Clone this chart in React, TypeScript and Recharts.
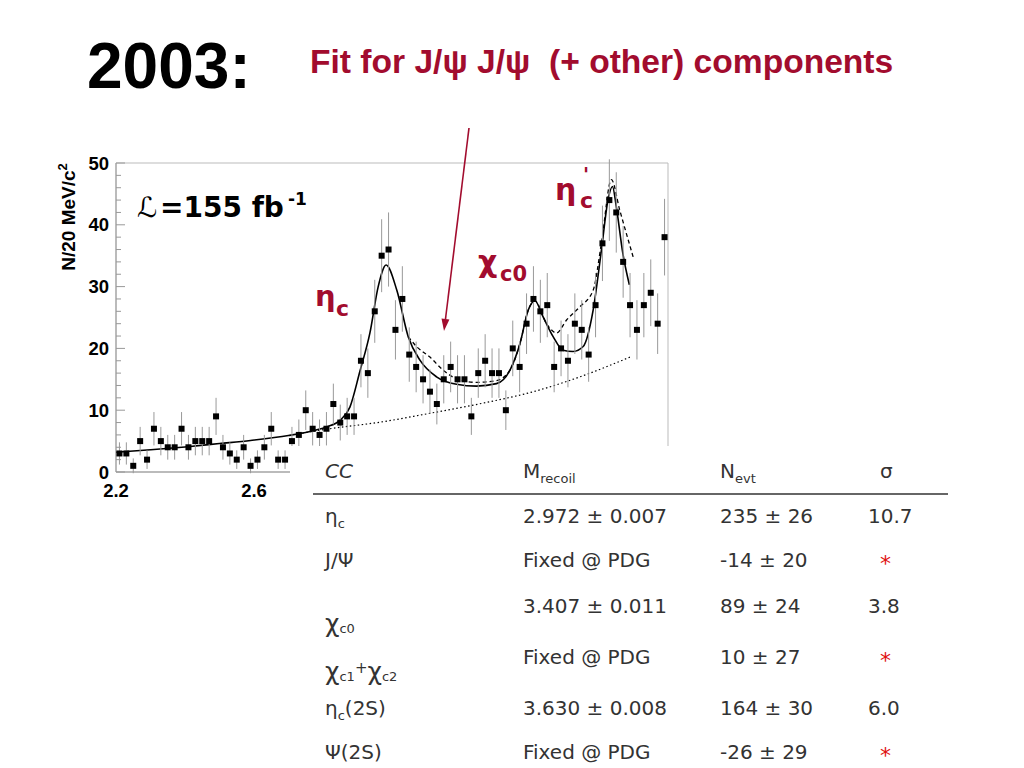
import React from "react";
import { ComposedChart, Scatter, Line, XAxis, YAxis, ErrorBar, ReferenceArea } from "recharts";

const RED = "#a20c2e";
const INK = "#333333";

// 20 MeV bins of recoil mass (GeV/c^2)
const binCenters = [
  2.21, 2.23, 2.25, 2.27, 2.29, 2.31, 2.33, 2.35, 2.37, 2.39,
  2.41, 2.43, 2.45, 2.47, 2.49, 2.51, 2.53, 2.55, 2.57, 2.59,
  2.61, 2.63, 2.65, 2.67, 2.69, 2.71, 2.73, 2.75, 2.77, 2.79,
  2.81, 2.83, 2.85, 2.87, 2.89, 2.91, 2.93, 2.95, 2.97, 2.99,
  3.01, 3.03, 3.05, 3.07, 3.09, 3.11, 3.13, 3.15, 3.17, 3.19,
  3.21, 3.23, 3.25, 3.27, 3.29, 3.31, 3.33, 3.35, 3.37, 3.39,
  3.41, 3.43, 3.45, 3.47, 3.49, 3.51, 3.53, 3.55, 3.57, 3.59,
  3.61, 3.63, 3.65, 3.67, 3.69, 3.71, 3.73, 3.75, 3.77, 3.79,
];
const counts = [
  3, 3, 1, 5, 2, 7, 5, 4, 4, 7,
  4, 5, 5, 5, 9, 4, 3, 2, 4, 1,
  2, 4, 7, 2, 2, 5, 6, 10, 7, 6,
  7, 11, 8, 9, 9, 18, 16, 26, 35, 36,
  23, 28, 19, 17, 15, 13, 11, 15, 17, 15,
  15, 9, 16, 18, 16, 16, 10, 20, 17, 24,
  28, 26, 27, 17, 20, 18, 24, 23, 19, 27,
  37, 44, 42, 34, 27, 23, 27, 29, 24, 38,
];
const countErrors = [
  1.8, 1.8, 1.2, 2.3, 1.5, 2.7, 2.3, 2, 2, 2.7,
  2, 2.3, 2.3, 2.3, 3, 2, 1.8, 1.5, 2, 1.2,
  1.5, 2, 2.7, 1.5, 1.5, 2.3, 2.5, 3.2, 2.7, 2.5,
  2.7, 3.3, 2.9, 3, 3, 4.3, 4, 5.1, 5.9, 6,
  4.8, 5.3, 4.4, 4.1, 3.9, 3.6, 3.3, 3.9, 4.1, 3.9,
  3.9, 3, 4, 4.3, 4, 4, 3.2, 4.5, 4.1, 4.9,
  5.3, 5.1, 5.2, 4.1, 4.5, 4.3, 4.9, 4.8, 4.4, 5.2,
  6.1, 6.6, 6.5, 5.8, 5.2, 4.8, 5.2, 5.4, 4.9, 6.2,
];

// full fit (solid)
const fitX = [2.2, 2.3, 2.4, 2.5, 2.59, 2.7, 2.78, 2.81, 2.85, 2.878, 2.907, 2.936, 2.96, 2.983, 3.014, 3.047, 3.081, 3.129, 3.187, 3.245, 3.303, 3.342, 3.371, 3.395, 3.414, 3.438, 3.467, 3.496, 3.525, 3.554, 3.583, 3.607, 3.626, 3.639, 3.65, 3.669, 3.688];
const fitY = [3.2, 3.6, 4.05, 4.6, 5.1, 5.9, 6.8, 7.3, 8.4, 10.5, 16.3, 22.5, 30.0, 33.5, 29.4, 21.9, 18.1, 15.4, 14.2, 13.9, 14.3, 16.5, 20.8, 26.2, 27.7, 25.1, 21.9, 19.7, 19.5, 20.3, 26.2, 35.9, 44, 46.2, 43, 35.4, 30.3];

// alternative fit (dashed)
const altX = [3.047, 3.071, 3.11, 3.148, 3.187, 3.245, 3.303, 3.342, 3.371, 3.395, 3.414, 3.448, 3.477, 3.506, 3.544, 3.583, 3.607, 3.636, 3.66, 3.699];
const altY = [21.9, 20.3, 18.6, 16.5, 15.1, 14.5, 14.8, 16.5, 20.8, 26.2, 27.7, 24, 22.5, 24.6, 26.7, 29.4, 37, 47.3, 42.4, 34.8];

// background (dotted)
const bkgX = [2.74, 2.82, 2.97, 3.11, 3.26, 3.41, 3.55, 3.69];
const bkgY = [6.3, 7.0, 8.1, 9.5, 11.1, 13.0, 15.5, 18.6];

const yTicks = [0, 2, 4, 6, 8, 10, 12, 14, 16, 18, 20, 22, 24, 26, 28, 30, 32, 34, 36, 38, 40, 42, 44, 46, 48, 50];
const xTicks = [2.2, 2.6];

// table
const tableMass = ["2.972 \u00b1 0.007", "Fixed @ PDG", "3.407 \u00b1 0.011", "Fixed @ PDG", "3.630 \u00b1 0.008", "Fixed @ PDG"];
const tableNevt = ["235 \u00b1 26", "-14 \u00b1 20", "89 \u00b1 24", "10 \u00b1 27", "164 \u00b1 30", "-26 \u00b1 29"];
const tableSigma = ["10.7", "*", "3.8", "*", "6.0", "*"];
const tableRowBaselines = [523, 567, 613, 664, 715, 759];

const Square = (p: any) => <rect x={p.cx - 3} y={p.cy - 3} width={6} height={6} fill="#000" />;

const YTick = (p: any) => {
  const v = p.payload.value;
  const major = v % 10 === 0;
  return (
    <g>
      <line x1={p.x} x2={p.x + (major ? 9 : 5)} y1={p.y} y2={p.y} stroke="#999" strokeWidth={1} />
      {major && (
        <text x={p.x - 7} y={p.y + 6.5} textAnchor="end" fontFamily="Liberation Sans, Arial" fontWeight="bold" fontSize={18.5} fill="#000">
          {v}
        </text>
      )}
    </g>
  );
};

const XTick = (p: any) => (
  <text x={p.x} y={p.y + 25} textAnchor="middle" fontFamily="Liberation Sans, Arial" fontWeight="bold" fontSize={18.5} fill="#000">
    {p.payload.value.toFixed(1)}
  </text>
);

export default function App() {
  const points = binCenters.map((x, i) => ({ x, y: counts[i], err: countErrors[i] }));
  const fit = fitX.map((x, i) => ({ x, y: fitY[i] }));
  const alt = altX.map((x, i) => ({ x, y: altY[i] }));
  const bkg = bkgX.map((x, i) => ({ x, y: bkgY[i] }));
  const tf = "DejaVu Sans";

  return (
    <div style={{ position: "absolute", left: 0, top: 0, width: 1024, height: 768, background: "#fff", overflow: "hidden" }}>
      <div style={{ position: "absolute", left: 0, top: 0 }}>
        <ComposedChart width={1024} height={768} margin={{ top: 163, right: 356, bottom: 266, left: 56 }}>
          <XAxis type="number" dataKey="x" domain={[2.2, 3.8]} ticks={xTicks} interval={0} tick={<XTick />} tickLine={false} tickSize={0} tickMargin={0} axisLine={{ stroke: "#999" }} height={30} allowDataOverflow />
          <YAxis type="number" dataKey="y" domain={[0, 50]} ticks={yTicks} interval={0} tick={<YTick />} tickLine={false} tickSize={0} tickMargin={0} width={60} axisLine={{ stroke: "#999" }} allowDataOverflow />
          <ReferenceArea x1={2.2} x2={3.8} y1={0} y2={50} fill="none" stroke="#bbb" />
          <Line data={bkg} dataKey="y" type="monotone" stroke="#000" strokeWidth={1.2} strokeDasharray="1.5 2.5" dot={false} isAnimationActive={false} />
          <Line data={alt} dataKey="y" type="monotone" stroke="#000" strokeWidth={1.3} strokeDasharray="4 3" dot={false} isAnimationActive={false} />
          <Line data={fit} dataKey="y" type="monotone" stroke="#000" strokeWidth={1.6} dot={false} isAnimationActive={false} />
          <Scatter data={points} dataKey="y" shape={Square} isAnimationActive={false}>
            <ErrorBar dataKey="err" direction="y" width={0} stroke="#999" strokeWidth={1} />
          </Scatter>
        </ComposedChart>
      </div>

      <svg width={1024} height={768} style={{ position: "absolute", left: 0, top: 0, pointerEvents: "none" }}>
        {/* titles */}
        <text x={87} y={88} fontFamily="Liberation Sans, Arial" fontWeight="bold" fontSize={64} fill="#000">2003:</text>
        <text x={310} y={73} fontFamily="Liberation Sans, Arial" fontWeight="bold" fontSize={33.6} fill={RED} style={{ whiteSpace: "pre" }} xmlSpace="preserve">
          {"Fit for J/\u03c8 J/\u03c8  (+ other) components"}
        </text>

        {/* arrow */}
        <line x1={469} y1={128} x2={445.5} y2={319} stroke={RED} strokeWidth={1.6} />
        <polygon points="444,331 449.4,319.6 441.5,318.6" fill={RED} />

        {/* y axis label */}
        <text transform="translate(75,217) rotate(-90)" textAnchor="middle" fontFamily="Liberation Sans, Arial" fontWeight="bold" fontSize={19} fill="#000">
          N/20 MeV/c<tspan fontSize={13} dy={-8}>2</tspan>
        </text>

        {/* luminosity */}
        <text x={137} y={217} fontFamily={tf} fontStyle="italic" fontSize={28} fill="#000">{"\u2112"}</text>
        <text x={160} y={217} fontFamily={tf} fontWeight="bold" fontSize={28} fill="#000">=155 fb</text>
        <text x={288} y={205} fontFamily={tf} fontWeight="bold" fontSize={17} fill="#000">-1</text>

        {/* peak labels */}
        <text x={315} y={306} fontFamily={tf} fontWeight="bold" fontSize={29} fill={RED}>{"\u03b7"}</text>
        <text x={336} y={316} fontFamily={tf} fontWeight="bold" fontSize={22} fill={RED}>c</text>
        <text x={478} y={272} fontFamily={tf} fontWeight="bold" fontSize={30} fill={RED}>{"\u03c7"}</text>
        <text x={500} y={281} fontFamily={tf} fontWeight="bold" fontSize={21} fill={RED}>c0</text>
        <text x={555} y={200} fontFamily={tf} fontWeight="bold" fontSize={30} fill={RED}>{"\u03b7"}</text>
        <text x={583} y={181} fontFamily={tf} fontWeight="bold" fontSize={20} fill={RED}>'</text>
        <text x={580} y={208} fontFamily={tf} fontWeight="bold" fontSize={22} fill={RED}>c</text>

        {/* table */}
        <rect x={290} y={446} width={734} height={322} fill="#fff" />
        <g fontFamily={tf} fontSize={20} fill={INK}>
          <text x={325} y={478} fontStyle="italic">CC</text>
          <text x={523} y={478}>M<tspan fontSize={13} dy={5}>recoil</tspan></text>
          <text x={720} y={478}>N<tspan fontSize={13} dy={5}>evt</tspan></text>
          <text x={880} y={478}>{"\u03c3"}</text>
          <line x1={313} x2={948} y1={494} y2={494} stroke={INK} strokeWidth={1.5} />

          <text x={325} y={523}>{"\u03b7"}<tspan fontSize={13} dy={5}>c</tspan></text>
          <text x={325} y={567}>J/{"\u03a8"}</text>
          <text x={325} y={632} fontSize={25}>{"\u03c7"}<tspan fontSize={13} dy={1}>c0</tspan></text>
          <text x={325} y={680} fontSize={25}>{"\u03c7"}<tspan fontSize={13} dy={1}>c1</tspan><tspan fontSize={15} dy={-8}>+</tspan><tspan dy={7}>{"\u03c7"}</tspan><tspan fontSize={13} dy={1}>c2</tspan></text>
          <text x={325} y={715}>{"\u03b7"}<tspan fontSize={13} dy={5}>c</tspan><tspan dy={-5}>(2S)</tspan></text>
          <text x={325} y={759}>{"\u03a8"}(2S)</text>

          {tableRowBaselines.map((b, i) => (
            <g key={i}>
              <text x={523} y={b}>{tableMass[i]}</text>
              <text x={720} y={b}>{tableNevt[i]}</text>
              {tableSigma[i] === "*" ? (
                <text x={880} y={b + 4} fill="#e01010" fontSize={22}>*</text>
              ) : (
                <text x={868} y={b}>{tableSigma[i]}</text>
              )}
            </g>
          ))}
        </g>
      </svg>
    </div>
  );
}
